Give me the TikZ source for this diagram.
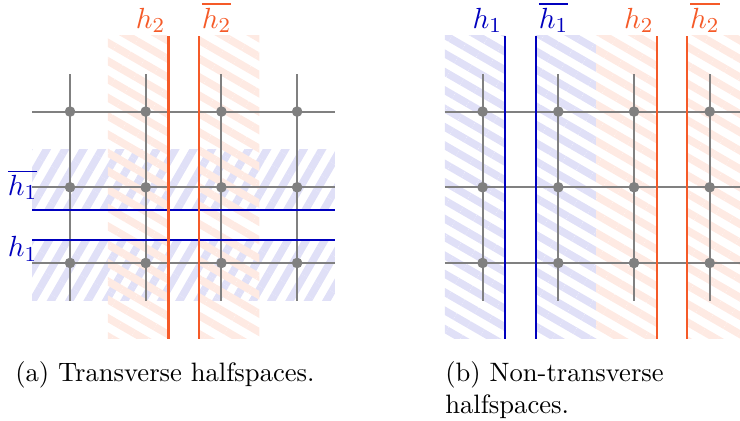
\documentclass[tikz,border=0pt]{standalone}
\definecolor{hone}{RGB}{0, 0, 190}
\definecolor{htwo}{RGB}{245, 90, 40}
\usepackage{tikz}
\usetikzlibrary{patterns.meta, positioning}
\usepackage{amsmath, amssymb}
\usepackage{xcolor}

\begin{document}
\begin{tikzpicture}[
    vertex/.style={circle, fill=gray, inner sep=0pt, minimum size=1.4mm},
    edge/.style={gray, thick},
    wall/.style={thick},
    half/.style={pattern={Lines[angle=#1, distance=2.1mm, line width=1mm]}},
    lbl/.style={inner sep=1pt, font=\fontsize{11pt}{13pt}\selectfont},
    subcap/.style={inner sep=0pt, align=left, font=\normalsize}
]
    \useasboundingbox (-0.925,-2.087) rectangle (8.85,3.474);

    % (a) transverse
    \fill[half=60, pattern color=hone!12] (-0.5,-0.5) rectangle (3.5,0.3);
    \fill[half=60, pattern color=hone!12] (-0.5,0.7) rectangle (3.5,1.5);
    \fill[half=-30, pattern color=htwo!13] (0.5,-1) rectangle (1.3,3);
    \fill[half=-30, pattern color=htwo!13] (1.7,-1) rectangle (2.5,3);

    \foreach \y in {0,1,2} \draw[edge] (-0.5,\y) -- (3.5,\y);
    \foreach \x in {0,...,3} {
        \draw[edge] (\x,-0.5) -- (\x,2.5);
        \foreach \y in {0,1,2} \node[vertex] (a-\x-\y) at (\x,\y) {};
    }

    \coordinate (a-h1-w) at (-0.5,0.3);
    \coordinate (a-h1-e) at (3.5,0.3);
    \coordinate (a-h1bar-w) at (-0.5,0.7);
    \coordinate (a-h1bar-e) at (3.5,0.7);
    \draw[wall, hone] (a-h1-w) -- (a-h1-e);
    \draw[wall, hone] (a-h1bar-w) -- (a-h1bar-e);
    \node[lbl, text=hone, anchor=north east] (a-h1) at (-0.39,0.39) {$h_1$};
    \node[lbl, text=hone, anchor=south east] (a-h1bar) at (-0.39,0.79) {$\overline{h_1}$};

    \coordinate (a-h2-s) at (1.3,-1);
    \coordinate (a-h2-n) at (1.3,3);
    \coordinate (a-h2bar-s) at (1.7,-1);
    \coordinate (a-h2bar-n) at (1.7,3);
    \draw[wall, htwo] (a-h2-s) -- (a-h2-n);
    \draw[wall, htwo] (a-h2bar-s) -- (a-h2bar-n);
    \node[lbl, text=htwo, anchor=south east] (a-h2) at (a-h2-n) {$h_2$};
    \node[lbl, text=htwo, anchor=south west] (a-h2bar) at (a-h2bar-n) {$\overline{h_2}$};

    % (b) non-transverse
    \begin{scope}[xshift=5.45cm]
        \fill[half=-30, pattern color=hone!12] (-0.5,-1) rectangle (0.3,3);
        \fill[half=-30, pattern color=hone!12] (0.7,-1) rectangle (1.5,3);
        \fill[half=-30, pattern color=htwo!13] (1.5,-1) rectangle (2.3,3);
        \fill[half=-30, pattern color=htwo!13] (2.7,-1) rectangle (3.5,3);

        \foreach \y in {0,1,2} \draw[edge] (-0.5,\y) -- (3.5,\y);
        \foreach \x in {0,...,3} {
            \draw[edge] (\x,-0.5) -- (\x,2.5);
            \foreach \y in {0,1,2} \node[vertex] (b-\x-\y) at (\x,\y) {};
        }

        \coordinate (b-h1-s) at (0.3,-1);
        \coordinate (b-h1-n) at (0.3,3);
        \coordinate (b-h1bar-s) at (0.7,-1);
        \coordinate (b-h1bar-n) at (0.7,3);
        \coordinate (b-h2-s) at (2.3,-1);
        \coordinate (b-h2-n) at (2.3,3);
        \coordinate (b-h2bar-s) at (2.7,-1);
        \coordinate (b-h2bar-n) at (2.7,3);
        \draw[wall, hone] (b-h1-s) -- (b-h1-n);
        \draw[wall, hone] (b-h1bar-s) -- (b-h1bar-n);
        \draw[wall, htwo] (b-h2-s) -- (b-h2-n);
        \draw[wall, htwo] (b-h2bar-s) -- (b-h2bar-n);
        \node[lbl, text=hone, anchor=south east] (b-h1) at (b-h1-n) {$h_1$};
        \node[lbl, text=hone, anchor=south west] (b-h1bar) at (b-h1bar-n) {$\overline{h_1}$};
        \node[lbl, text=htwo, anchor=south east] (b-h2) at (b-h2-n) {$h_2$};
        \node[lbl, text=htwo, anchor=south west] (b-h2bar) at (b-h2bar-n) {$\overline{h_2}$};
    \end{scope}

    % captions
    \node[subcap, anchor=base west] (capa) at (-0.73,-1.57) {(a) Transverse halfspaces.};
    \node[subcap, anchor=north west] (capb) at (capa.north -| 4.95,0) {(b) Non-transverse\\halfspaces.};
\end{tikzpicture}
\end{document}
